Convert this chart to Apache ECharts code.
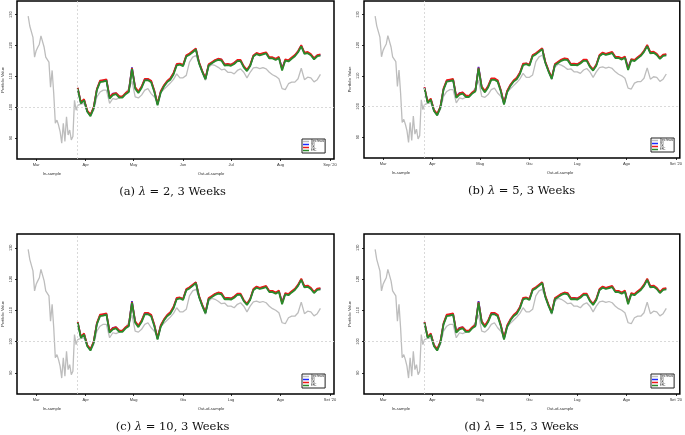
<!DOCTYPE html>
<html><head><meta charset="utf-8">
<script src="https://cdn.jsdelivr.net/npm/echarts@6/dist/echarts.min.js"></script>
<style>html,body{margin:0;padding:0;background:#fff}#c{width:685px;height:435px}</style>
</head><body><div id="c"></div>
<script>
// ---- data ----
const inDates = ['2020-02-25','2020-02-26','2020-02-27','2020-02-28','2020-02-29','2020-03-01','2020-03-02','2020-03-03','2020-03-04','2020-03-05','2020-03-06','2020-03-07','2020-03-08','2020-03-09','2020-03-10','2020-03-11','2020-03-12','2020-03-13','2020-03-14','2020-03-15','2020-03-16','2020-03-17','2020-03-18','2020-03-19','2020-03-20','2020-03-21','2020-03-22','2020-03-23','2020-03-24','2020-03-25','2020-03-26'];
const inBench = [129.5,126.3,126.9,122.6,116.2,118.3,119.4,120.4,123.1,122.6,119.4,116.2,115.6,114.6,106.5,111.9,104.4,94.8,95.8,94.2,92.1,88.3,94.8,88.9,96.9,91.0,92.6,89.4,90.5,102.2,99.0];
const outDates = ['2020-03-27','2020-03-29','2020-03-31',
'2020-04-02','2020-04-04','2020-04-06','2020-04-08','2020-04-10','2020-04-12','2020-04-14','2020-04-16','2020-04-18','2020-04-20','2020-04-22','2020-04-24','2020-04-26','2020-04-28','2020-04-30',
'2020-05-02','2020-05-04','2020-05-06','2020-05-08','2020-05-10','2020-05-12','2020-05-14','2020-05-16','2020-05-18','2020-05-20','2020-05-22','2020-05-24','2020-05-26','2020-05-28','2020-05-30',
'2020-06-01','2020-06-03','2020-06-05','2020-06-07','2020-06-09','2020-06-11','2020-06-13','2020-06-15','2020-06-17','2020-06-19','2020-06-21','2020-06-23','2020-06-25','2020-06-27','2020-06-29',
'2020-07-01','2020-07-03','2020-07-05','2020-07-07','2020-07-09','2020-07-11','2020-07-13','2020-07-15','2020-07-17','2020-07-19','2020-07-21','2020-07-23','2020-07-25','2020-07-27','2020-07-29','2020-07-31',
'2020-08-02','2020-08-04','2020-08-06','2020-08-08','2020-08-10','2020-08-12','2020-08-14','2020-08-16','2020-08-18','2020-08-20','2020-08-22','2020-08-24','2020-08-26'];
const outBench = [100.6,101.0,101.2,98.5,97.1,99.0,103.3,104.9,105.5,105.5,
101.2,102.8,102.5,103.0,103.5,104.6,106.0,108.5,103.3,103.0,
103.9,105.5,106.0,104.4,103.3,101.7,104.7,105.8,106.8,107.8,
109.0,110.8,109.5,109.5,110.3,114.6,116.2,116.7,114.2,111.4,
108.7,112.9,113.8,113.5,112.9,112.1,112.3,111.3,111.3,110.8,
111.9,112.4,111.3,109.5,111.3,112.7,112.9,112.5,112.8,112.4,
111.3,110.5,110.0,109.2,106.0,105.7,107.6,108.1,108.1,109.2,
112.6,108.9,109.7,109.5,108.2,108.9,110.6];
const seriesBlue = [106.2,101.4,102.4,98.7,97.4,99.8,105.7,108.4,108.6,108.8,
103.1,104.4,104.5,103.4,103.3,104.4,105.1,112.9,106.3,104.9,
106.5,109.0,109.0,108.4,105.2,100.9,105.0,106.9,108.3,109.2,
110.9,113.8,114.0,113.5,116.6,117.2,118.0,118.9,114.4,111.6,
109.2,113.7,114.4,115.1,115.6,115.4,113.8,113.9,113.7,114.3,
115.1,115.1,113.1,111.9,113.5,116.6,117.4,117.0,117.3,117.6,
116.0,116.0,115.5,116.1,112.6,115.3,115.0,115.9,116.7,118.0,
119.9,117.5,117.7,117.0,115.7,116.7,116.9];
const seriesRed = [106.3,101.6,102.6,98.9,97.6,100.0,105.9,108.6,108.8,109.0,
103.3,104.3,104.6,103.6,103.5,104.6,105.3,112.7,106.5,105.1,
106.7,109.2,109.2,108.6,105.4,101.1,105.2,107.1,108.5,109.4,
111.1,114.0,114.1,113.7,116.8,117.4,118.2,119.0,114.6,111.8,
109.4,113.9,114.6,115.3,115.7,115.5,113.9,114.0,113.8,114.4,
115.3,115.3,113.3,112.1,113.7,116.8,117.6,117.2,117.5,117.8,
116.2,116.2,115.7,116.3,112.3,115.5,115.2,116.1,116.9,118.2,
120.1,117.7,117.9,117.2,115.9,116.9,117.1];
const seriesGreen = [106.0,101.2,102.2,98.5,97.1,99.6,105.5,108.1,108.3,108.6,
102.8,103.9,104.2,103.1,103.1,104.2,104.9,112.4,106.0,104.6,
106.2,108.7,108.7,108.1,104.9,100.6,104.7,106.7,108.1,108.9,
110.6,113.5,113.8,113.3,116.4,117.0,117.8,118.7,114.2,111.4,
109.0,113.5,114.2,114.9,115.3,115.1,113.5,113.6,113.4,114.0,
114.9,114.9,112.9,111.7,113.3,116.4,117.2,116.8,117.1,117.4,
115.8,115.8,115.3,115.9,111.9,115.1,114.8,115.7,116.5,117.8,
119.7,117.3,117.5,116.8,115.5,116.5,116.7];
const tickDates = ['2020-03-01','2020-04-01','2020-05-01','2020-06-01','2020-07-01','2020-08-01','2020-09-01'];
const monthsEN = ['Mar','Apr','May','Jun','Jul','Aug',"Sep '20"];
const monthsIT = ['Mar','Apr','Mag','Giu','Lug','Ago',"Set '20"];
const yTicks = [90,100,110,120,130];
const seriesNames = ['Benchmark','MV','SR','ERC'];
const lambdas = ['2','5','10','15'];
const panelLetters = ['a','b','c','d'];
const splitDate = '2020-03-27';

// ---- build ----
const ts = d => Date.parse(d);
const tickTs = tickDates.map(ts);
const colors = ['#bdbdbd','#1f2bff','#f01818','#2a8a2a'];
const panels = [
  {left:15, top:1, w:319, h:158, months:monthsEN},
  {left:364, top:1, w:319, h:157, months:monthsIT},
  {left:15, top:234, w:319, h:160, months:monthsIT},
  {left:364, top:234, w:319, h:160, months:monthsIT}
];
const benchData = inDates.map((d,i)=>[ts(d),inBench[i]]).concat(outDates.map((d,i)=>[ts(d),outBench[i]]));
const mk = arr => outDates.map((d,i)=>[ts(d),arr[i]]);
const grids=[],xAxes=[],yAxes=[],series=[],legends=[],graphics=[];
panels.forEach((p,k)=>{
  grids.push({left:p.left,top:p.top,width:p.w,height:p.h,show:true,borderColor:'#000',borderWidth:1.5,backgroundColor:'#fff'});
  xAxes.push({type:'value',gridIndex:k,min:ts('2020-02-18'),max:ts('2020-09-03')+43200000,
    axisLine:{show:false},splitLine:{show:false},
    axisTick:{show:true,customValues:tickTs,length:2,lineStyle:{color:'#000',width:0.8}},
    axisLabel:{customValues:tickTs,fontSize:4,color:'#333',margin:4,
      formatter:v=>{const i=tickTs.indexOf(v);return i>=0?p.months[i]:'';}}});
  yAxes.push({type:'value',gridIndex:k,min:83.2,max:134.4,
    name:'Portfolio Value',nameLocation:'middle',nameGap:12,nameTextStyle:{fontSize:4,color:'#333'},
    axisLine:{show:false},splitLine:{show:false},
    axisTick:{show:true,customValues:yTicks,length:2,lineStyle:{color:'#000',width:0.8}},
    axisLabel:{customValues:yTicks,fontSize:4,color:'#333',rotate:90,margin:4}});
  const base={type:'line',xAxisIndex:k,yAxisIndex:k,showSymbol:false,symbol:'none',animation:false};
  series.push(Object.assign({},base,{name:seriesNames[0],data:benchData,lineStyle:{color:colors[0],width:1.3},itemStyle:{color:colors[0]},
    markLine:{silent:true,symbol:'none',label:{show:false},lineStyle:{color:'#d0d0d0',type:[2,2],width:0.8},
      data:[{yAxis:100},{xAxis:ts(splitDate)}]}}));
  series.push(Object.assign({},base,{name:seriesNames[1],data:mk(seriesBlue),lineStyle:{color:colors[1],width:1.7},itemStyle:{color:colors[1]}}));
  series.push(Object.assign({},base,{name:seriesNames[2],data:mk(seriesRed),lineStyle:{color:colors[2],width:1.7},itemStyle:{color:colors[2]}}));
  series.push(Object.assign({},base,{name:seriesNames[3],data:mk(seriesGreen),lineStyle:{color:colors[3],width:1.8},itemStyle:{color:colors[3]}}));
  legends.push({left:p.left+p.w-32,top:p.top+p.h-20,orient:'vertical',data:seriesNames.map((n,i)=>({name:n,icon:'rect',itemStyle:{color:colors[i]}})),
    padding:[1,1,1,1],itemGap:0,itemWidth:6,itemHeight:1.5,borderColor:'#222',borderWidth:1,backgroundColor:'#fff',
    textStyle:{fontSize:2.6,color:'#222',padding:[0,0,0,-3]},selectedMode:false});
  const cx=p.left+p.w/2-2;
  const ly=p.top+p.h;
  graphics.push({type:'text',x:p.left+37,y:ly+15,style:{text:'In-sample',fontSize:4.2,fill:'#333',align:'center',verticalAlign:'middle'}});
  graphics.push({type:'text',x:p.left+196,y:ly+15,style:{text:'Out-of-sample',fontSize:4.2,fill:'#333',align:'center',verticalAlign:'middle'}});
  graphics.push({type:'text',x:cx,y:ly+33,
    style:{text:'('+panelLetters[k]+') {i|λ} = '+lambdas[k]+', 3 Weeks',font:'11.5px "DejaVu Serif"',fill:'#111',align:'center',verticalAlign:'middle',
      rich:{i:{fontStyle:'italic',font:'italic 11.5px "DejaVu Serif"'}}}});
});
const chart = echarts.init(document.getElementById('c'),null,{renderer:'canvas'});
chart.setOption({backgroundColor:'#fff',animation:false,grid:grids,xAxis:xAxes,yAxis:yAxes,series:series,legend:legends,graphic:graphics});
</script></body></html>
